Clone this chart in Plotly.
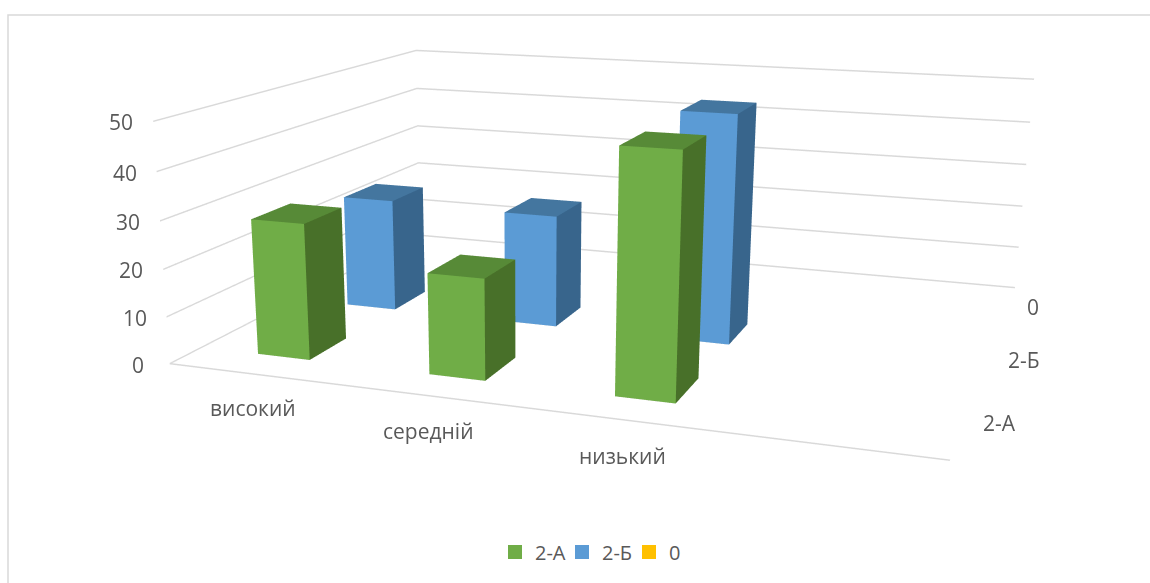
import plotly.graph_objects as go

categories = ["високий", "середній", "низький"]
series = ["2-А", "2-Б", "0"]
axis_ticks = [0, 10, 20, 30, 40, 50]
values_a = [28.8, 21, 48.9]
values_b = [25.3, 24.8, 49.3]
values_0 = [0, 0, 0]
colors = {"2-А": ("#70AD47", "#578A37", "#487029"),
          "2-Б": ("#5B9BD5", "#44769F", "#38658C"),
          "0": ("#FFC000", "#CC9A00", "#A67C00")}
BW, BD = 0.31, 0.40
FIG_W, FIG_H, SHIFT_X, SHIFT_Y = 1244, 1364, 94, 320
CAT_SHIFTS = [(-1, -34), (-3, -35), (-3, -36)]
SER_SHIFTS = [(35, 0), (36, 0), (26, 2)]


def box(xc, yc, h, cols, name):
    front, top, side = cols
    x0, x1, y0, y1 = xc - BW / 2, xc + BW / 2, yc - BD / 2, yc + BD / 2
    xs = [x0, x1, x1, x0, x0, x1, x1, x0]
    ys = [y0, y0, y1, y1, y0, y0, y1, y1]
    zs = [0, 0, 0, 0, h, h, h, h]
    i = [0, 0, 4, 4, 1, 1, 0, 0, 3, 3, 2, 2]
    j = [1, 2, 5, 6, 2, 6, 1, 5, 2, 6, 3, 7]
    k = [2, 3, 6, 7, 6, 5, 5, 4, 6, 7, 7, 6]
    fc = [side, side, top, top, side, side, front, front, side, side, side, side]
    return go.Mesh3d(x=xs, y=ys, z=zs, i=i, j=j, k=k, facecolor=fc, flatshading=True,
                     lighting=dict(ambient=1, diffuse=0, specular=0, fresnel=0),
                     hoverinfo="skip", name=name, showlegend=False)


fig = go.Figure()
for s_idx, (name, vals) in enumerate(zip(series, [values_a, values_b, values_0])):
    for c_idx, v in enumerate(vals):
        if v > 0:
            fig.add_trace(box(c_idx, s_idx, v, colors[name], name))
    fig.add_trace(go.Scatter3d(x=[None], y=[None], z=[None], mode="markers", name=name,
                               marker=dict(symbol="square", size=14, color=colors[name][0]),
                               showlegend=True))

grid = "#D9D9D9"
label_font = dict(size=21, color="#595959", family="Open Sans")


def px(x):
    return (x + SHIFT_X) / FIG_W


def py(y):
    return 1 - (y + SHIFT_Y) / FIG_H


def label(text, x, y, z, dx, dy):
    return dict(text=str(text), x=x, y=y, z=z, xshift=dx, yshift=dy, showarrow=False,
                font=label_font, xanchor="center", yanchor="middle")


scene_labels = (
    [label(c, i, -0.5, 0, *CAT_SHIFTS[i]) for i, c in enumerate(categories)]
    + [label(s, 3.5, i, 0, *SER_SHIFTS[i]) for i, s in enumerate(series)]
    + [label(v, -0.5, -0.5, v, -32, -1) for v in axis_ticks]
)

fig.update_layout(
    width=FIG_W, height=FIG_H, paper_bgcolor="white", margin=dict(l=0, r=0, t=0, b=0),
    font=dict(family="Open Sans", size=18, color="#595959"),
    legend=dict(orientation="h", x=px(495), xanchor="left", y=py(552), yanchor="middle",
                font=dict(size=20, color="#595959", family="Open Sans"),
                entrywidth=22, entrywidthmode="pixels", itemclick=False),
    shapes=[dict(type="rect", xref="paper", yref="paper", x0=px(8), x1=1.2, y0=-0.2, y1=py(15),
                 line=dict(color="#D9D9D9", width=1.5), fillcolor="rgba(0,0,0,0)")],
    scene=dict(
        domain=dict(x=[0, 1], y=[0, 1]),
        aspectmode="manual", aspectratio=dict(x=3.144, y=2.494, z=1),
        camera=dict(eye=dict(x=2.098, y=-6.770, z=1.541), center=dict(x=-0.1304, y=-0.8887, z=-0.4376),
                    up=dict(x=0, y=0, z=1)),
        annotations=scene_labels,
        xaxis=dict(title="", range=[-0.5, 3.5], tickvals=[0, 1, 2], showticklabels=False, showgrid=False,
                   zeroline=False, showline=True, linecolor=grid, linewidth=3, showbackground=False, ticks=""),
        yaxis=dict(title="", range=[-0.5, 2.5], tickvals=[0, 1, 2], showticklabels=False, showgrid=False,
                   zeroline=False, showline=False, showbackground=False, ticks=""),
        zaxis=dict(title="", range=[0, 50], tickvals=axis_ticks, showticklabels=False, showgrid=True,
                   gridcolor=grid, gridwidth=3, zeroline=False, showline=False, showbackground=False, ticks=""),
    ),
)
clip = ("document.documentElement.style.overflow='hidden';document.body.style.overflow='hidden';"
        "document.body.style.margin='0';var g=document.querySelector('.plotly-graph-div');"
        f"g.style.marginLeft='-{SHIFT_X}px';g.style.marginTop='-{SHIFT_Y}px';")
fig.write_html("out.html", post_script=clip)
